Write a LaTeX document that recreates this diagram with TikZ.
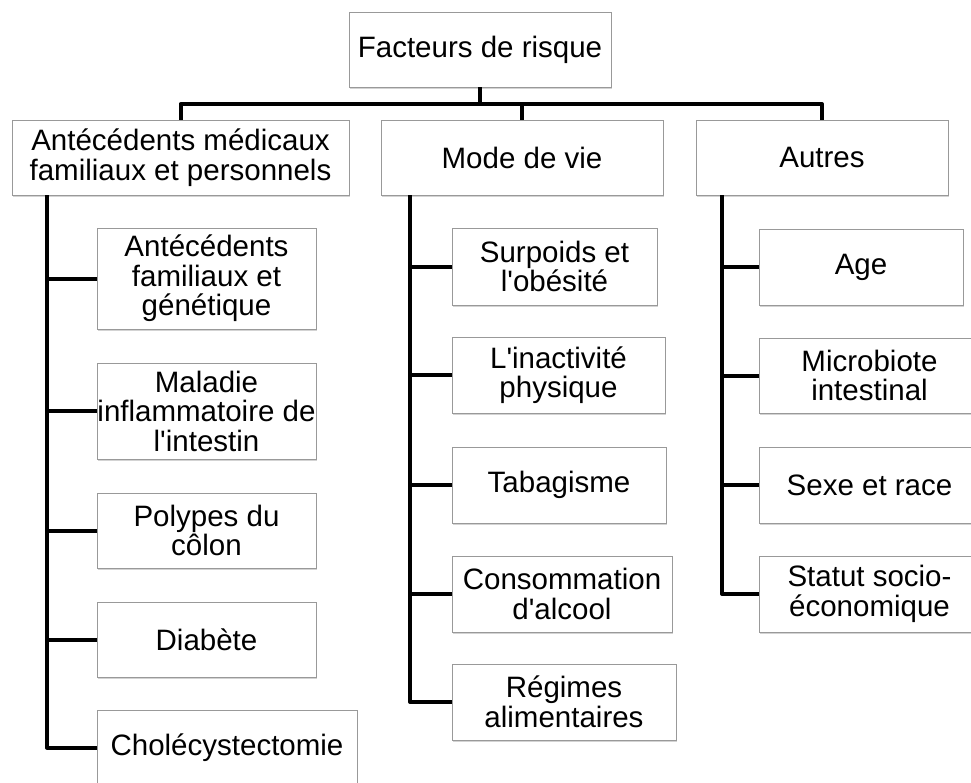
\documentclass[tikz,border=0pt]{standalone}
\usepackage{fontspec}
\setmainfont{Liberation Sans}[Ligatures=TeXOff]
\usetikzlibrary{shadows}
\tikzset{
  box/.style={draw=black!40, line width=0.8pt, fill=white, align=center, inner sep=0pt,
    font=\fontsize{29.5}{29.5}\selectfont,
    drop shadow={shadow xshift=1.2pt, shadow yshift=-2pt, opacity=0.35}},
  conn/.style={line width=4pt, line join=round, draw=black}
}
\begin{document}
\begin{tikzpicture}[x=1pt, y=-1pt]
\useasboundingbox (0,0) rectangle (971,782);
\clip (0,0) rectangle (971,782);
% level 0 / 1
\node[box, minimum width=262pt, minimum height=75pt] (top) at (480,49.5) {Facteurs de risque};
\node[box, minimum width=337pt, minimum height=75pt] (A) at (180.5,157.5) {Antécédents médicaux\\familiaux et personnels};
\node[box, minimum width=282pt, minimum height=75pt] (B) at (522,157.5) {Mode de vie};
\node[box, minimum width=252pt, minimum height=75pt] (C) at (822,157.5) {Autres};
% column A
\node[box, minimum width=219pt, minimum height=101pt] (a1) at (206.5,278.5) {Antécédents\\familiaux et\\génétique};
\node[box, minimum width=219pt, minimum height=96pt] (a2) at (206.5,411) {Maladie\\inflammatoire de\\l'intestin};
\node[box, minimum width=219pt, minimum height=75pt] (a3) at (206.5,530.5) {Polypes du\\côlon};
\node[box, minimum width=219pt, minimum height=75pt] (a4) at (206.5,639.5) {Diabète};
\node[box, minimum width=260pt, minimum height=75pt] (a5) at (227,747.5) {Cholécystectomie};
% column B
\node[box, minimum width=205pt, minimum height=77pt] (b1) at (554.5,266.5) {Surpoids et\\l'obésité};
\node[box, minimum width=213pt, minimum height=76pt] (b2) at (558.5,375) {L'inactivité\\physique};
\node[box, minimum width=214pt, minimum height=76pt] (b3) at (559,485) {Tabagisme};
\node[box, minimum width=220pt, minimum height=76pt] (b4) at (562,594) {Consommation\\d'alcool};
\node[box, minimum width=224pt, minimum height=76pt] (b5) at (564,702) {Régimes\\alimentaires};
% column C
\node[box, minimum width=204pt, minimum height=76pt] (c1) at (861,267) {Age};
\node[box, minimum width=221pt, minimum height=75pt] (c2) at (869.5,375.5) {Microbiote\\intestinal};
\node[box, minimum width=221pt, minimum height=76pt] (c3) at (869.5,485) {Sexe et race};
\node[box, minimum width=221pt, minimum height=76pt] (c4) at (869.5,594) {Statut socio-\\économique};
% connectors
\coordinate (bus) at (0,104);
\draw[conn] (top.south) -- (top.south |- bus);
\draw[conn] (A.north) -- (A.north |- bus) -- (C.north |- bus) -- (C.north);
\draw[conn] (B.north) -- (B.north |- bus);
\coordinate (ca) at (47,195);
\coordinate (cb) at (410,195);
\coordinate (cc) at (722,195);
\draw[conn] (ca) |- (a5.west);
\foreach \n in {a1,a2,a3,a4} \draw[conn] (ca |- \n.west) -- (\n.west);
\draw[conn] (cb) |- (b5.west);
\foreach \n in {b1,b2,b3,b4} \draw[conn] (cb |- \n.west) -- (\n.west);
\draw[conn] (cc) |- (c4.west);
\foreach \n in {c1,c2,c3} \draw[conn] (cc |- \n.west) -- (\n.west);
\end{tikzpicture}
\end{document}
